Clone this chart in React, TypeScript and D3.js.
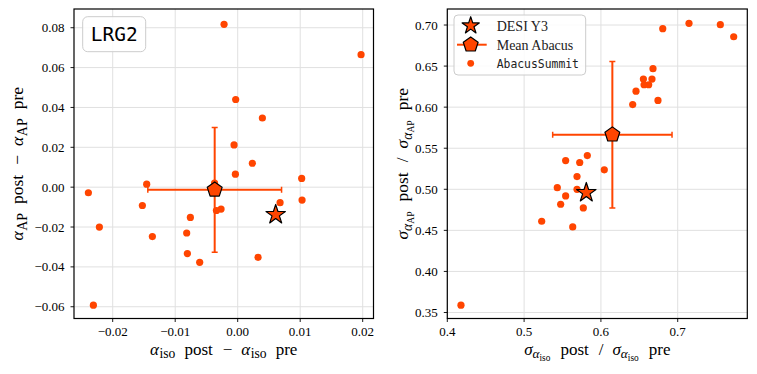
import React, { useEffect, useRef } from 'react'
import * as d3 from 'd3'

// left panel: shifts in alpha (post - pre), AbacusSummit boxes
const dAlphaIso = [-0.00218, 0.01974, -0.00032, 0.00395, -0.00058, 0.00235, -0.00037, 0.01024, -0.01456, -0.0037, -0.02389, -0.01525, -0.02213, -0.00757, -0.01365, -0.00816, -0.00805, -0.00608, 0.00326, -0.00266, -0.0034, 0.00678, 0.0103, -0.02309]
const dAlphaAP = [0.0817, 0.0665, 0.044, 0.0347, 0.0212, 0.012, 0.0065, 0.0044, 0.0015, 0.0021, -0.0028, -0.0092, -0.02, -0.0152, -0.0248, -0.023, -0.0333, -0.0377, -0.0352, -0.011, -0.0117, -0.0078, -0.0065, -0.0592]
const desiShift = [0.00608, -0.0138]
const meanShift = [-0.00368, -0.0013]
const meanShiftErr = [0.0107, 0.0313]

// right panel: ratios of errors (post / pre)
const sigIsoRatio = [0.7147, 0.7555, 0.7729, 0.6805, 0.6678, 0.6553, 0.6665, 0.6562, 0.6622, 0.6457, 0.6743, 0.6414, 0.6044, 0.5823, 0.5724, 0.5541, 0.5689, 0.5432, 0.5689, 0.5541, 0.5476, 0.5771, 0.5229, 0.5633, 0.4178]
const sigAPRatio = [0.702, 0.7004, 0.6857, 0.6955, 0.6468, 0.6342, 0.6342, 0.6273, 0.6273, 0.6195, 0.6082, 0.6032, 0.5237, 0.5411, 0.5326, 0.535, 0.5155, 0.502, 0.5, 0.4919, 0.4818, 0.4773, 0.4611, 0.4542, 0.3589]
const desiRatio = [0.581, 0.4959]
const meanRatio = [0.6149, 0.5665]
const meanRatioErr = [0.0777, 0.0892]

const leftXTicks = [-0.02, -0.01, 0, 0.01, 0.02]
const leftYTicks = [-0.06, -0.04, -0.02, 0, 0.02, 0.04, 0.06, 0.08]
const rightXTicks = [0.4, 0.5, 0.6, 0.7]
const rightYTicks = [0.35, 0.4, 0.45, 0.5, 0.55, 0.6, 0.65, 0.7]

const legendLabels = ['DESI Y3', 'Mean Abacus', 'AbacusSummit']

const ORANGE = '#ff4500'
const SERIF = '"Liberation Serif", "DejaVu Serif", serif'
const MONO = '"DejaVu Sans Mono", monospace'

function starPath(R: number) {
  const r = R * 0.381966
  const pts: [number, number][] = []
  for (let i = 0; i < 10; i++) {
    const a = -Math.PI / 2 + i * Math.PI / 5
    const rr = i % 2 === 0 ? R : r
    pts.push([rr * Math.cos(a), rr * Math.sin(a)])
  }
  return 'M' + pts.map(p => p.join(',')).join('L') + 'Z'
}

function pentagonPath(R: number) {
  const pts: [number, number][] = []
  for (let i = 0; i < 5; i++) {
    const a = -Math.PI / 2 + i * 2 * Math.PI / 5
    pts.push([R * Math.cos(a), R * Math.sin(a)])
  }
  return 'M' + pts.map(p => p.join(',')).join('L') + 'Z'
}

const fmtMinus = (f: (n: number) => string) => (v: number) => f(v).replace('-', '\u2212')

// segments: [text, size scale, baseline shift (px, down), italic, gap before (px)]
type Seg = [string, number, number, boolean, number]

function richText(g: any, segs: Seg[], base: number) {
  let prev = 0
  segs.forEach(([t, s, shift, it, gap]) => {
    g.append('tspan')
      .attr('dy', shift - prev)
      .attr('dx', gap)
      .attr('font-size', base * s)
      .attr('font-style', it ? 'italic' : 'normal')
      .text(t)
    prev = shift
  })
}

const isoLabel = (sym: string, sub: string): Seg[] => [
  [sym, 1, 0, true, 0], [sub, 0.8, 3.5, false, 0.5],
  ['post', 1, 0, false, 9], ['\u2212', 1, 0, false, 10],
  [sym, 1, 0, true, 9], [sub, 0.8, 3.5, false, 0.5], ['pre', 1, 0, false, 9],
]
const ratioLabel = (sub: string): Seg[] => [
  ['\u03c3', 1, 0, true, 0], ['\u03b1', 0.78, 3.5, true, 0], [sub, 0.55, 6, false, 0],
  ['post', 1, 0, false, 10], ['/', 1, 0, false, 10],
  ['\u03c3', 1, 0, true, 9], ['\u03b1', 0.78, 3.5, true, 0], [sub, 0.55, 6, false, 0],
  ['pre', 1, 0, false, 10],
]

function drawPanel(svg: any, o: any) {
  const x = d3.scaleLinear().domain(o.xDomain).range([o.x0, o.x1])
  const y = d3.scaleLinear().domain(o.yDomain).range([o.y1, o.y0])
  const g = svg.append('g')

  // grid
  g.selectAll('line.gx').data(o.xTicks).join('line')
    .attr('x1', (d: number) => x(d)).attr('x2', (d: number) => x(d))
    .attr('y1', o.y0).attr('y2', o.y1)
    .attr('stroke', '#e0e0e0').attr('stroke-width', 1)
  g.selectAll('line.gy').data(o.yTicks).join('line')
    .attr('y1', (d: number) => y(d)).attr('y2', (d: number) => y(d))
    .attr('x1', o.x0).attr('x2', o.x1)
    .attr('stroke', '#e0e0e0').attr('stroke-width', 1)

  // ticks + labels
  const xt = g.append('g')
  o.xTicks.forEach((d: number) => {
    xt.append('line').attr('x1', x(d)).attr('x2', x(d)).attr('y1', o.y1).attr('y2', o.y1 + 3.5)
      .attr('stroke', '#000').attr('stroke-width', 0.9)
    xt.append('text').attr('x', x(d)).attr('y', o.y1 + 17.5)
      .attr('text-anchor', 'middle').attr('font-family', SERIF).attr('font-size', 13)
      .text(o.xFmt(d))
  })
  const yt = g.append('g')
  o.yTicks.forEach((d: number) => {
    yt.append('line').attr('x1', o.x0 - 3.5).attr('x2', o.x0).attr('y1', y(d)).attr('y2', y(d))
      .attr('stroke', '#000').attr('stroke-width', 0.9)
    yt.append('text').attr('x', o.x0 - 9.5).attr('y', y(d) + 4.5)
      .attr('text-anchor', 'end').attr('font-family', SERIF).attr('font-size', 13)
      .text(o.yFmt(d))
  })

  // clip for marks
  const clipId = `clip-${o.name}`
  svg.append('defs').append('clipPath').attr('id', clipId)
    .append('rect').attr('x', o.x0).attr('y', o.y0).attr('width', o.x1 - o.x0).attr('height', o.y1 - o.y0)
  const m = g.append('g').attr('clip-path', `url(#${clipId})`)

  m.selectAll('circle.pt').data(o.xs.map((v: number, i: number) => [v, o.ys[i]])).join('circle')
    .attr('class', 'pt')
    .attr('cx', (d: number[]) => x(d[0])).attr('cy', (d: number[]) => y(d[1]))
    .attr('r', 3.6).attr('fill', ORANGE)

  // mean error bars
  const [mx, my] = o.mean
  const [ex, ey] = o.meanErr
  const eb = m.append('g').attr('stroke', ORANGE).attr('stroke-width', 2)
  eb.append('line').attr('x1', x(mx - ex)).attr('x2', x(mx + ex)).attr('y1', y(my)).attr('y2', y(my))
  eb.append('line').attr('x1', x(mx)).attr('x2', x(mx)).attr('y1', y(my - ey)).attr('y2', y(my + ey))
  ;[mx - ex, mx + ex].forEach(v => eb.append('line').attr('stroke-width', 1.5)
    .attr('x1', x(v)).attr('x2', x(v)).attr('y1', y(my) - 3).attr('y2', y(my) + 3))
  ;[my - ey, my + ey].forEach(v => eb.append('line').attr('stroke-width', 1.5)
    .attr('y1', y(v)).attr('y2', y(v)).attr('x1', x(mx) - 3).attr('x2', x(mx) + 3))
  m.append('path').attr('d', pentagonPath(7.8))
    .attr('transform', `translate(${x(mx)},${y(my)})`)
    .attr('fill', ORANGE).attr('stroke', '#000').attr('stroke-width', 1.2).attr('stroke-linejoin', 'round')

  m.append('path').attr('d', starPath(10.2))
    .attr('transform', `translate(${x(o.star[0])},${y(o.star[1])})`)
    .attr('fill', ORANGE).attr('stroke', '#000').attr('stroke-width', 1.2).attr('stroke-linejoin', 'round')

  // frame
  g.append('rect').attr('x', o.x0).attr('y', o.y0).attr('width', o.x1 - o.x0).attr('height', o.y1 - o.y0)
    .attr('fill', 'none').attr('stroke', '#000').attr('stroke-width', 1.2)

  // axis labels
  const xl = g.append('text').attr('x', (o.x0 + o.x1) / 2).attr('y', o.y1 + 36)
    .attr('text-anchor', 'middle').attr('font-family', SERIF).attr('fill', '#000')
  richText(xl, o.xLabel, 17)
  const cy = (o.y0 + o.y1) / 2
  const yl = g.append('text').attr('transform', `translate(${o.yLabelX},${cy}) rotate(-90)`)
    .attr('text-anchor', 'middle').attr('font-family', SERIF).attr('fill', '#000')
  richText(yl, o.yLabel, 17.5)
  return { x, y }
}

function App() {
  const ref = useRef<SVGSVGElement>(null)

  useEffect(() => {
    const svg = d3.select(ref.current)
    svg.selectAll('*').remove()

    drawPanel(svg, {
      name: 'l', x0: 74, x1: 373.5, y0: 9, y1: 318.5,
      xDomain: [-0.02619, 0.02173], yDomain: [-0.0659, 0.0894],
      xTicks: leftXTicks, yTicks: leftYTicks,
      xFmt: fmtMinus(d3.format('.2f')), yFmt: fmtMinus(d3.format('.2f')),
      xs: dAlphaIso, ys: dAlphaAP, star: desiShift, mean: meanShift, meanErr: meanShiftErr,
      yLabelX: 23,
      xLabel: isoLabel('\u03b1', 'iso'),
      yLabel: isoLabel('\u03b1', 'AP'),
    })

    drawPanel(svg, {
      name: 'r', x0: 447.3, x1: 747.3, y0: 9, y1: 318.5,
      xDomain: [0.4, 0.7906], yDomain: [0.3427, 0.7195],
      xTicks: rightXTicks, yTicks: rightYTicks,
      xFmt: d3.format('.1f'), yFmt: d3.format('.2f'),
      xs: sigIsoRatio, ys: sigAPRatio, star: desiRatio, mean: meanRatio, meanErr: meanRatioErr,
      yLabelX: 408,
      xLabel: ratioLabel('iso'),
      yLabel: ratioLabel('AP'),
    })

    // LRG2 tag
    svg.append('rect').attr('x', 82.7).attr('y', 16.7).attr('width', 63).attr('height', 35).attr('rx', 5)
      .attr('fill', 'white').attr('fill-opacity', 0.85).attr('stroke', '#cccccc').attr('stroke-width', 1)
    svg.append('text').attr('x', 114.2).attr('y', 40.8).attr('text-anchor', 'middle')
      .attr('font-family', MONO).attr('font-size', 19.5).text('LRG2')

    // legend
    const lg = svg.append('g')
    lg.append('rect').attr('x', 454).attr('y', 15).attr('width', 131.7).attr('height', 60).attr('rx', 4)
      .attr('fill', 'white').attr('fill-opacity', 0.85).attr('stroke', '#cccccc').attr('stroke-width', 1)
    const rows = [25.7, 44.7, 63.3]
    const mxL = 470.7
    lg.append('path').attr('d', starPath(9)).attr('transform', `translate(${mxL},${rows[0]})`)
      .attr('fill', ORANGE).attr('stroke', '#000').attr('stroke-width', 1.2).attr('stroke-linejoin', 'round')
    lg.append('line').attr('x1', 457).attr('x2', 486.7).attr('y1', rows[1]).attr('y2', rows[1])
      .attr('stroke', ORANGE).attr('stroke-width', 2)
    lg.append('path').attr('d', pentagonPath(7.8)).attr('transform', `translate(${mxL},${rows[1]})`)
      .attr('fill', ORANGE).attr('stroke', '#000').attr('stroke-width', 1.2).attr('stroke-linejoin', 'round')
    lg.append('circle').attr('cx', mxL).attr('cy', rows[2]).attr('r', 3.4).attr('fill', ORANGE)
    legendLabels.forEach((t, i) => {
      lg.append('text').attr('x', 496.7).attr('y', rows[i] + 4.8)
        .attr('font-family', i === 2 ? MONO : SERIF).attr('font-size', i === 2 ? 11.4 : 14)
        .attr('fill', '#222').text(t)
    })
  }, [])

  return (
    <svg ref={ref} width={757} height={374}
      style={{ position: 'absolute', left: 0, top: 0, background: 'white' }} />
  )
}

export default App
